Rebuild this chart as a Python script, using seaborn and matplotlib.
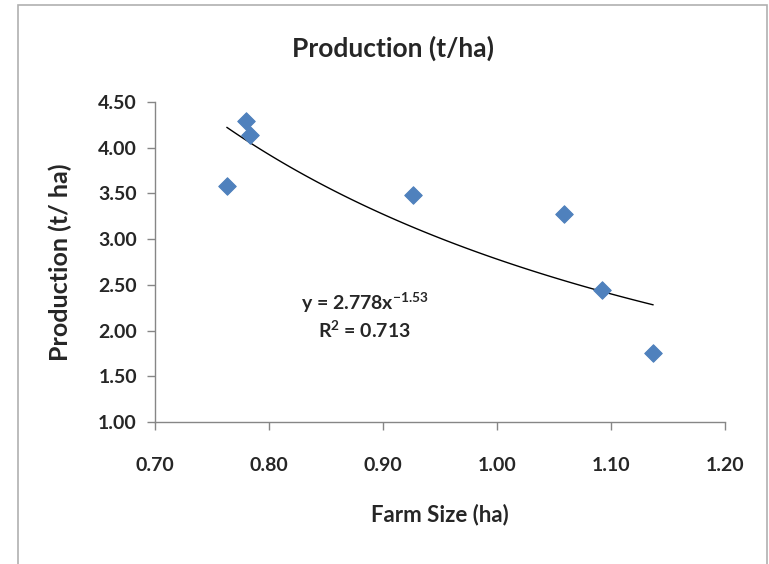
import numpy as np
import pandas as pd
import seaborn as sns
import matplotlib.pyplot as plt
from matplotlib.patches import Rectangle

sns.set_style("white")
plt.rcParams['font.family'] = ['Lato', 'DejaVu Sans']
plt.rcParams['mathtext.default'] = 'regular'

farm_size = [0.763, 0.780, 0.783, 0.926, 1.059, 1.092, 1.137]
production = [3.58, 4.29, 4.14, 3.48, 3.27, 2.44, 1.75]
x_ticks = [0.70, 0.80, 0.90, 1.00, 1.10, 1.20]
y_ticks = [1.00, 1.50, 2.00, 2.50, 3.00, 3.50, 4.00, 4.50]

df = pd.DataFrame({"farm": farm_size, "prod": production})

# power trendline fitted in log space
b, log_a = np.polyfit(np.log(df["farm"]), np.log(df["prod"]), 1)
a = np.exp(log_a)
xs = np.linspace(df["farm"].min(), df["farm"].max(), 100)

fig = plt.figure(figsize=(7.69, 5.64), dpi=100)
ax = fig.add_axes([155 / 769, 1 - 422 / 564, 570 / 769, 320 / 564])

fig.patches.append(Rectangle((18 / 769, -0.05), 749 / 769, 1 - 5 / 564 + 0.05,
                             transform=fig.transFigure, fill=False,
                             edgecolor="#b0b0b0", linewidth=1.2))

sns.scatterplot(data=df, x="farm", y="prod", marker="D", s=80,
                color="#4f81bd", edgecolor="#4f81bd", ax=ax, zorder=3)
ax.plot(xs, a * xs ** b, color="black", linewidth=1.0, zorder=2)

ax.set_xlim(0.70, 1.20)
ax.set_ylim(1.00, 4.50)
ax.set_xticks(x_ticks)
ax.set_yticks(y_ticks)
ax.set_xticklabels([f"{v:.2f}" for v in x_ticks])
ax.set_yticklabels([f"{v:.2f}" for v in y_ticks])
for lab in ax.get_xticklabels() + ax.get_yticklabels():
    lab.set_fontweight("bold")
    lab.set_fontsize(14)

sns.despine(ax=ax)
for side in ["left", "bottom"]:
    ax.spines[side].set_color("#868686")
    ax.spines[side].set_linewidth(1.0)
ax.tick_params(axis="both", direction="out", length=6, color="#868686",
               width=1.0, left=True, bottom=True)
ax.tick_params(axis="y", pad=7)
ax.tick_params(axis="x", pad=19)

ax.set_xlabel("Farm Size (ha)", fontsize=16, fontweight="bold")
ax.set_ylabel("Production (t/ ha)", fontsize=18, fontweight="bold")
ax.xaxis.set_label_coords(0.5, (422 - 504) / 320)
ax.yaxis.set_label_coords((72 - 155) / 570, 0.5)
fig.text(393 / 769, 1 - 48 / 564, "Production (t/ha)", fontsize=19,
         fontweight="bold", ha="center", va="center")

ax.text(0.884, 2.30, "y = 2.778x$^{-1.53}$", fontsize=14,
        fontweight="bold", ha="center", va="center")
ax.text(0.884, 2.00, "R$^{2}$ = 0.713", fontsize=14,
        fontweight="bold", ha="center", va="center")

fig.savefig("out.png", dpi=100)
